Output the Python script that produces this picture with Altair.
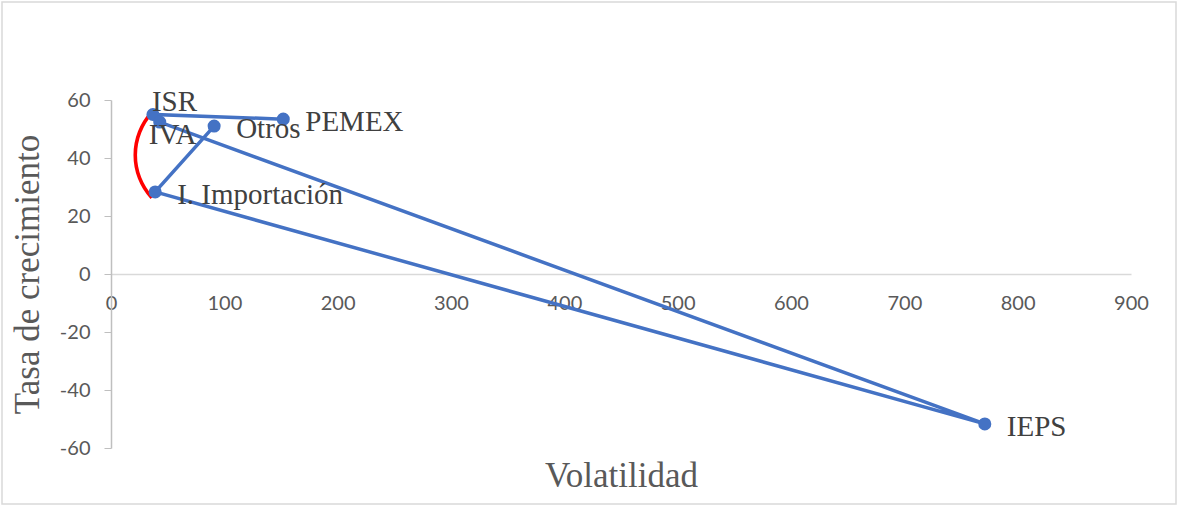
import altair as alt
import pandas as pd

# Tax revenue components: volatility vs growth rate, joined in this order
names = ["PEMEX", "ISR", "IVA", "IEPS", "I. Importación", "Otros"]
volatility = [152, 37, 43, 771, 39, 91]
growth = [53.4, 55.0, 52.4, -51.7, 28.3, 51.0]
order = [0, 1, 2, 3, 4, 5]

x_ticks = [0, 100, 200, 300, 400, 500, 600, 700, 800, 900]
y_ticks = [-60, -40, -20, 0, 20, 40, 60]

df = pd.DataFrame({"name": names, "vol": volatility, "growth": growth, "order": order})

W, H = 1020, 348
BLUE = "#4472C4"
SERIF = "Liberation Serif"
GREY_TEXT = "#595959"

x_scale = alt.Scale(domain=[0, 900], nice=False, zero=False)
y_scale = alt.Scale(domain=[-60, 60], nice=False, zero=False)

x_enc = alt.X(
    "vol:Q",
    scale=x_scale,
    axis=alt.Axis(
        values=x_ticks,
        labelExpr="'' + datum.value",
        title="Volatilidad",
        titleFont=SERIF,
        titleFontSize=35,
        titleFontWeight="normal",
        titleColor=GREY_TEXT,
        titlePadding=145,
        labelFont="Lato",
        labelFontSize=20,
        labelColor=GREY_TEXT,
        labelPadding=19,
        labelFlush=False,
        ticks=False,
        grid=False,
        domainColor="#D9D9D9",
        domainWidth=1.5,
        offset=-174,
    ),
)
y_enc = alt.Y(
    "growth:Q",
    scale=y_scale,
    axis=alt.Axis(
        values=y_ticks,
        labelExpr="'' + datum.value",
        title="Tasa de crecimiento",
        titleFont=SERIF,
        titleFontSize=35,
        titleFontWeight="normal",
        titleColor=GREY_TEXT,
        titlePadding=14,
        labelFont="Lato",
        labelFontSize=20,
        labelColor=GREY_TEXT,
        labelPadding=14,
        labelFlush=False,
        tickSize=7,
        tickColor="#BFBFBF",
        domainColor="#BFBFBF",
        domainWidth=1.5,
        grid=False,
    ),
)

base = alt.Chart(df)

path = base.mark_line(color=BLUE, strokeWidth=3.5).encode(
    x=x_enc, y=y_enc, order="order:Q"
)
points = base.mark_circle(color=BLUE, opacity=1, size=170).encode(
    x="vol:Q", y="growth:Q"
)

label_style = dict(font=SERIF, fontSize=29, color="#404040", baseline="middle")
right_labels = base.transform_filter(
    alt.FieldOneOfPredicate(field="name", oneOf=["PEMEX", "Otros", "I. Importación", "IEPS"])
).mark_text(align="left", dx=22, dy=3, **label_style).encode(
    x="vol:Q", y="growth:Q", text="name:N"
)
above_label = base.transform_filter(alt.datum.name == "ISR").mark_text(
    align="left", dx=-1, dy=-13, **label_style
).encode(x="vol:Q", y="growth:Q", text="name:N")
below_label = base.transform_filter(alt.datum.name == "IVA").mark_text(
    align="left", dx=-11, dy=13, **label_style
).encode(x="vol:Q", y="growth:Q", text="name:N")

# Red bracket arc linking ISR and I. Importación
arc_center = pd.DataFrame({"vol": [77.0], "growth": [41.0]})
bracket = alt.Chart(arc_center).mark_arc(
    color="#FF0000", radius=64.8, radius2=61.2, theta=3.97, theta2=5.46
).encode(x="vol:Q", y="growth:Q")

# Light outer frame around the whole figure
frame = alt.Chart(arc_center).mark_rect(
    fill=None, stroke="#D9D9D9", strokeWidth=1.5
).encode(
    x=alt.value(-109), x2=alt.value(W + 45), y=alt.value(-98), y2=alt.value(H + 56)
)

chart = (
    alt.layer(frame, path, bracket, points, right_labels, above_label, below_label)
    .properties(
        width=W,
        height=H,
        autosize=alt.AutoSizeParams(type="none"),
        padding={"left": 111, "top": 100, "right": 47, "bottom": 60},
        background="white",
    )
    .configure_view(stroke=None)
)

chart.save("out.html", embed_options={"renderer": "svg", "actions": False})
